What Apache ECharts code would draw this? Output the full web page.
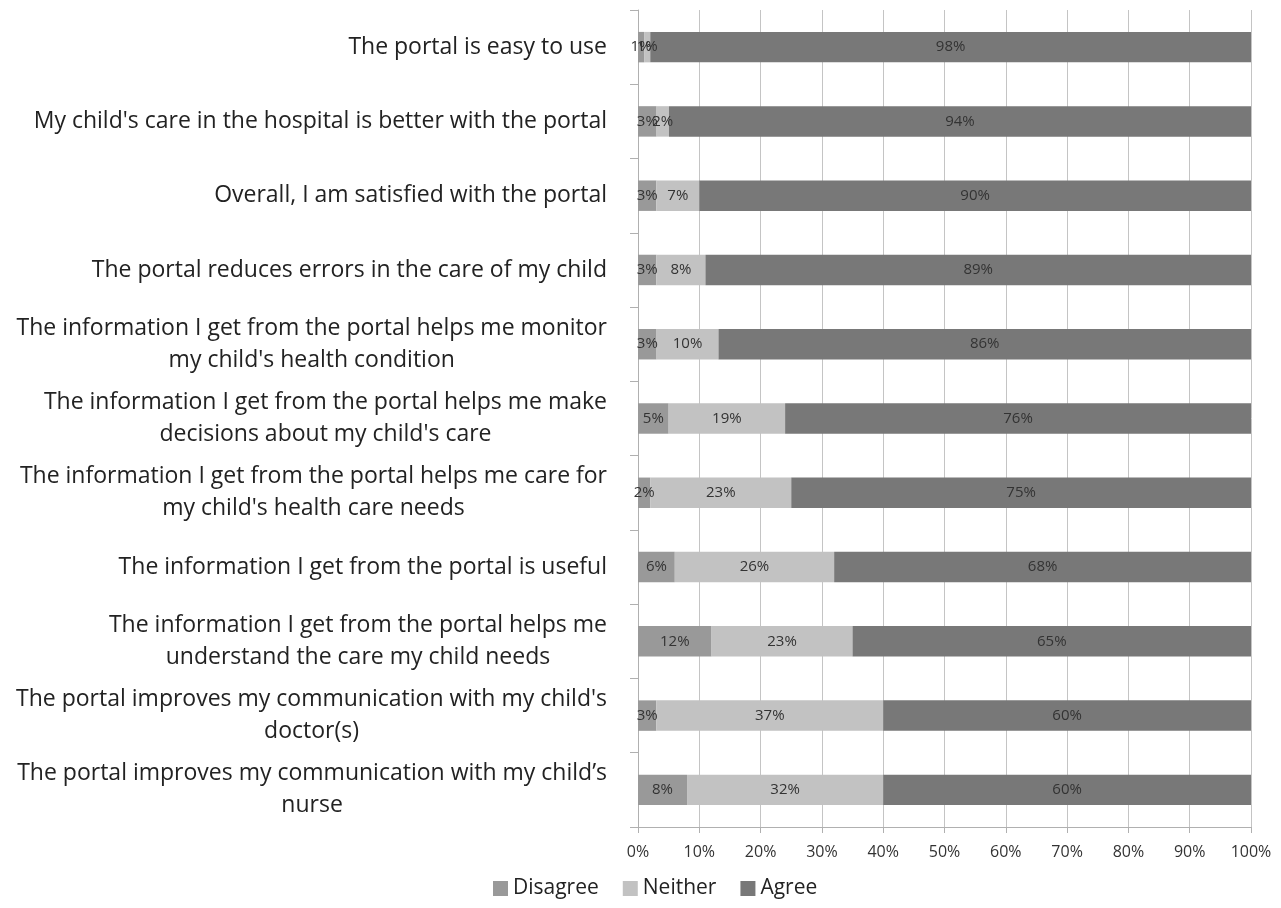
<!DOCTYPE html>
<html><head><meta charset="utf-8">
<script src="https://cdn.jsdelivr.net/npm/echarts@6/dist/echarts.min.js"></script>
<style>html,body{margin:0;padding:0;background:#fff}#c{width:1281px;height:908px}</style>
</head><body><div id="c"></div>
<script>
const categories = [
  "The portal is easy to use",
  "My child's care in the hospital is better with the portal",
  "Overall, I am satisfied with the portal",
  "The portal reduces errors in the care of my child",
  "The information I get from the portal helps me monitor\nmy child's health condition",
  "The information I get from the portal helps me make\ndecisions about my child's care",
  "The information I get from the portal helps me care for\nmy child's health care needs",
  "The information I get from the portal is useful",
  "The information I get from the portal helps me\nunderstand the care my child needs",
  "The portal improves my communication with my child's\ndoctor(s)",
  "The portal improves my communication with my child\u2019s\nnurse"
];
const disagree = [1, 3, 3, 3, 3, 5, 2, 6, 12, 3, 8];
const neither  = [1, 2, 7, 8, 10, 19, 23, 26, 23, 37, 32];
const agree    = [98, 94, 90, 89, 86, 76, 75, 68, 65, 60, 60];

const totals = categories.map((_, i) => disagree[i] + neither[i] + agree[i]);
const share = arr => arr.map((v, i) => ({ value: v / totals[i] * 100, raw: v }));

const font = "'Open Sans', 'Noto Sans', sans-serif";
const lbl = { show: true, position: 'inside', color: '#333', fontSize: 15, fontFamily: font,
  formatter: p => p.data.raw + '%' };

const chart = echarts.init(document.getElementById('c'), null, { renderer: 'canvas' });
chart.setOption({
  animation: false,
  grid: { left: 638, right: 30, top: 10, bottom: 81, containLabel: false },
  legend: {
    top: 873, left: 488, itemWidth: 15, itemHeight: 15, itemGap: 24,
    icon: 'rect',
    textStyle: { fontSize: 21, color: '#222', fontFamily: font },
    data: ['Disagree', 'Neither', 'Agree']
  },
  xAxis: {
    type: 'value', min: 0, max: 100, interval: 10,
    axisLine: { show: true, lineStyle: { color: '#b0b0b0' } },
    axisTick: { show: true, length: 6, lineStyle: { color: '#b0b0b0' } },
    splitLine: { show: true, lineStyle: { color: '#c4c4c4' } },
    axisLabel: { color: '#333', fontSize: 16, fontFamily: font, margin: 17,
      formatter: v => v + '%' }
  },
  yAxis: {
    type: 'category', inverse: true, data: categories,
    axisLine: { show: true, lineStyle: { color: '#b0b0b0' } },
    axisTick: { show: true, length: 8, lineStyle: { color: '#b0b0b0' } },
    axisLabel: {
      margin: 31, color: '#222', fontFamily: font, fontSize: 23,
      formatter: v => v.split('\n').map(l => '{a|' + l + '}').join('\n'),
      rich: { a: { align: 'center', fontSize: 23, lineHeight: 32, color: '#222', fontFamily: font } }
    }
  },
  series: [
    { name: 'Disagree', type: 'bar', stack: 's', barWidth: '41%', data: share(disagree),
      itemStyle: { color: '#999999' }, label: lbl },
    { name: 'Neither', type: 'bar', stack: 's', data: share(neither),
      itemStyle: { color: '#c2c2c2' }, label: lbl },
    { name: 'Agree', type: 'bar', stack: 's', data: share(agree),
      itemStyle: { color: '#787878' }, label: lbl }
  ]
});
</script></body></html>
